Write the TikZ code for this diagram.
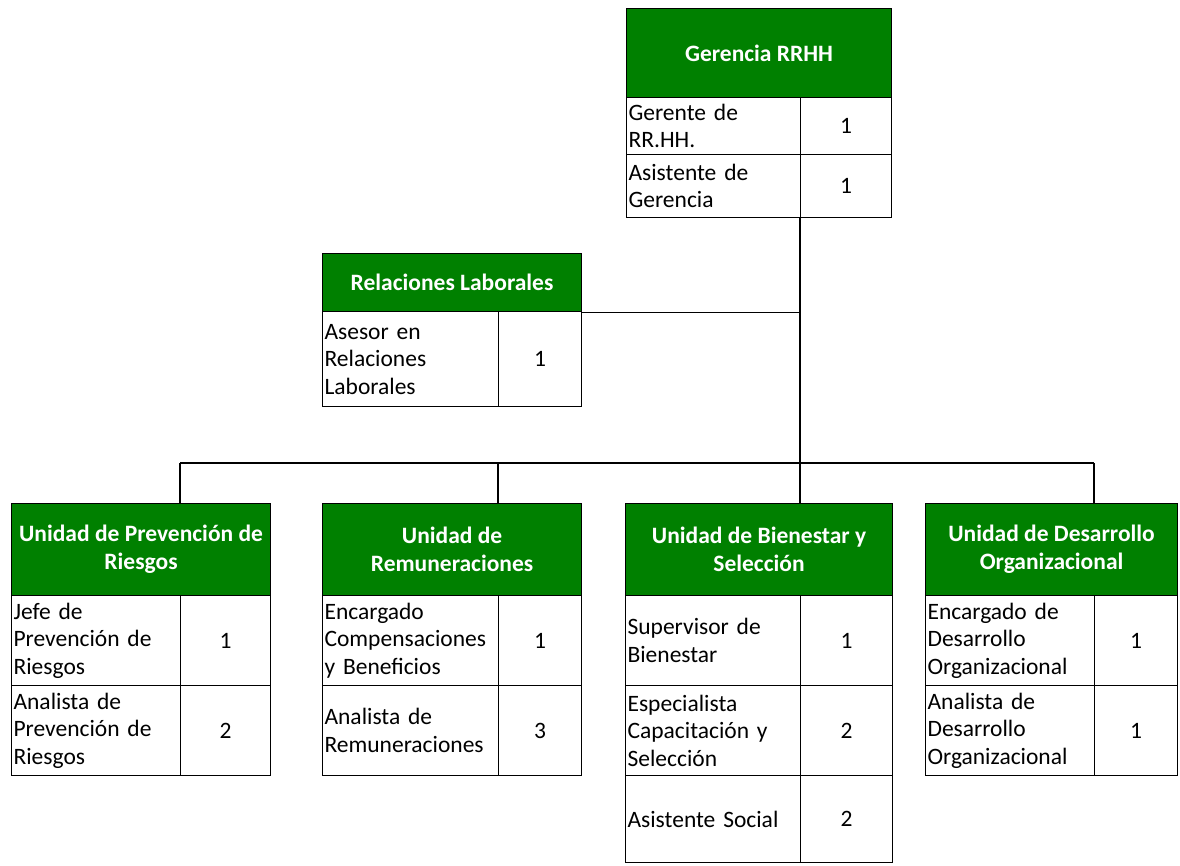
\documentclass[tikz,border=0pt]{standalone}
\usepackage{fontspec}
\setmainfont{Carlito}
\definecolor{xlgreen}{RGB}{0,128,0}
\begin{document}
\begin{tikzpicture}[x=1pt,y=-1pt,line width=1.1pt,
  hdr/.style={draw=black,fill=xlgreen,text=white,font=\fontsize{23.5}{28}\selectfont\bfseries,
    anchor=north west,inner sep=0pt,align=center,minimum width=#1},
  lab/.style={draw=black,anchor=north west,inner xsep=2pt,inner ysep=0pt,text width=#1-4pt,align=left,
    font=\fontsize{23.5}{27.5}\selectfont},
  num/.style={draw=black,anchor=north west,inner sep=0pt,minimum width=#1,align=center,
    font=\fontsize{23.5}{27.5}\selectfont},
  conn/.style={draw=black,line width=1.1pt}]
\useasboundingbox (0,0) rectangle (1180,865);

% Gerencia RRHH
\node[hdr=265pt,minimum height=89pt] (gh) at (626,8) {Gerencia RRHH};
\node[lab=174pt,minimum height=57pt] (g1l) at (626,97) {Gerente de\\RR.HH.};
\node[num=91pt,minimum height=57pt] (g1n) at (800,97) {1};
\node[lab=174pt,minimum height=63pt] (g2l) at (626,154) {Asistente de\\Gerencia};
\node[num=91pt,minimum height=63pt] (g2n) at (800,154) {1};

% Relaciones Laborales
\node[hdr=259pt,minimum height=58pt] (rh) at (322,253) {Relaciones Laborales};
\node[lab=176pt,minimum height=95pt] (r1l) at (322,311) {Asesor en\\Relaciones\\Laborales};
\node[num=83pt,minimum height=95pt] (r1n) at (498,311) {1};

% Prevencion
\node[hdr=259pt,minimum height=92pt] (ph) at (11,503) {Unidad de Prevención de\\Riesgos};
\node[lab=169pt,minimum height=90pt] (p1l) at (11,595) {Jefe de\\Prevención de\\Riesgos};
\node[num=90pt,minimum height=90pt] (p1n) at (180,595) {1};
\node[lab=169pt,minimum height=90pt] (p2l) at (11,685) {Analista de\\Prevención de\\Riesgos};
\node[num=90pt,minimum height=90pt] (p2n) at (180,685) {2};

% Remuneraciones
\node[hdr=259pt,minimum height=92pt] (mh) at (322,503) {Unidad de\\Remuneraciones};
\node[lab=176pt,minimum height=90pt] (m1l) at (322,595) {Encargado\\Compensaciones\\y Beneficios};
\node[num=83pt,minimum height=90pt] (m1n) at (498,595) {1};
\node[lab=176pt,minimum height=90pt] (m2l) at (322,685) {Analista de\\Remuneraciones};
\node[num=83pt,minimum height=90pt] (m2n) at (498,685) {3};

% Bienestar
\node[hdr=267pt,minimum height=92pt] (bh) at (625,503) {Unidad de Bienestar y\\Selección};
\node[lab=175pt,minimum height=90pt] (b1l) at (625,595) {Supervisor de\\Bienestar};
\node[num=92pt,minimum height=90pt] (b1n) at (800,595) {1};
\node[lab=175pt,minimum height=90pt] (b2l) at (625,685) {Especialista\\Capacitación y\\Selección};
\node[num=92pt,minimum height=90pt] (b2n) at (800,685) {2};
\node[lab=175pt,minimum height=87pt] (b3l) at (625,775) {Asistente Social};
\node[num=92pt,minimum height=87pt] (b3n) at (800,775) {2};

% Desarrollo
\node[hdr=252pt,minimum height=92pt] (dh) at (925,503) {Unidad de Desarrollo\\Organizacional};
\node[lab=169pt,minimum height=90pt] (d1l) at (925,595) {Encargado de\\Desarrollo\\Organizacional};
\node[num=83pt,minimum height=90pt] (d1n) at (1094,595) {1};
\node[lab=169pt,minimum height=90pt] (d2l) at (925,685) {Analista de\\Desarrollo\\Organizacional};
\node[num=83pt,minimum height=90pt] (d2n) at (1094,685) {1};

% connectors
\coordinate (bar) at (800,463);
\draw[conn] (g2n.south west) -- (g2n.south west |- bar);
\draw[conn] (rh.south east) -- (g2n.south west |- rh.south east);
\draw[conn] (p1n.north west |- bar) -- (d1n.north west |- bar);
\draw[conn] (p1n.north west |- bar) -- (p1n.north west |- ph.north);
\draw[conn] (m1n.north west |- bar) -- (m1n.north west |- mh.north);
\draw[conn] (b1n.north west |- bar) -- (b1n.north west |- bh.north);
\draw[conn] (d1n.north west |- bar) -- (d1n.north west |- dh.north);
\end{tikzpicture}
\end{document}
